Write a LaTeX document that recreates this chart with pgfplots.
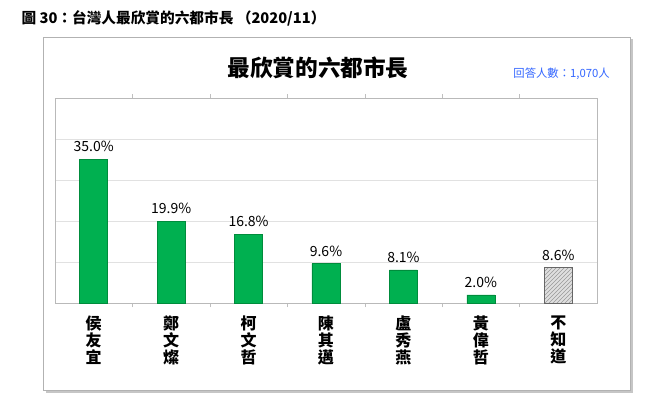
\documentclass[border=0pt]{standalone}
\usepackage{fontspec}
\setmainfont{Noto Sans CJK TC}
\usepackage{pgfplots}
\pgfplotsset{compat=1.18}
\usetikzlibrary{patterns}
\definecolor{bargreen}{RGB}{0,176,80}
\definecolor{barborder}{RGB}{0,140,60}
\definecolor{noteblue}{RGB}{51,102,255}
\definecolor{gridgray}{RGB}{225,225,225}
\begin{document}
\begin{tikzpicture}
\useasboundingbox (0,0) rectangle (493.5pt,306pt);
\fill[white] (0,0) rectangle (493.5pt,306pt);
% outer chart box with shadow
\fill[gray!45] (34.5pt,11.5pt) rectangle (474.5pt,276.5pt);
\draw[gray!60, fill=white, line width=0.6pt] (32.25pt,13.5pt) rectangle (472.5pt,278.25pt);
% header
\node[anchor=west, font=\bfseries\fontsize{11}{13}\selectfont, inner sep=0pt] at (16pt,292.5pt) {圖 30：台灣人最欣賞的六都市長 （2020/11）};
% title
\node[font=\bfseries\fontsize{17}{20}\selectfont, inner sep=0pt] at (238.5pt,255pt) {最欣賞的六都市長};
\node[anchor=east, font=\fontsize{8.5}{10}\selectfont, text=noteblue, inner sep=0pt] at (457.5pt,250.5pt) {回答人數：1,070人};
\begin{axis}[
  at={(41.25pt,78.75pt)}, anchor=south west,
  scale only axis, width=406.5pt, height=153.75pt,
  xmin=-0.5, xmax=6.5, ymin=0, ymax=50,
  axis line style={gray!55},
  ytick={10,20,30,40,50}, yticklabels={}, ymajorgrids,
  grid style={gridgray, line width=0.5pt},
  major tick length=0pt,
  xtick={0,1,2,3,4,5,6},
  xticklabels={{侯\\友\\宜},{鄭\\文\\燦},{柯\\文\\哲},{陳\\其\\邁},{盧\\秀\\燕},{黃\\偉\\哲},{不\\知\\道}},
  xticklabel style={align=center, font=\bfseries\fontsize{12}{12.8}\selectfont, yshift=-6pt},
  minor xtick={0.5,1.5,2.5,3.5,4.5,5.5},
  minor tick length=3pt, xtick align=outside,
  minor tick style={gray!50},
  /pgf/number format/assume math mode=true,
  ybar, bar width=21pt, bar shift=0pt,
  nodes near coords={\pgfmathprintnumber[fixed,fixed zerofill,precision=1]{\pgfplotspointmeta}\%},
  nodes near coords style={font=\fontsize{10.5}{12}\selectfont, black, yshift=2pt},
  clip=false,
]
\addplot[fill=bargreen, draw=barborder] coordinates {(0,35.0) (1,19.9) (2,16.8) (3,9.6) (4,8.1) (5,2.0)};
\addplot[fill=gray!25, draw=gray!80!black, postaction={pattern=north east lines, pattern color=gray!80}] coordinates {(6,8.6)};
\end{axis}
\end{tikzpicture}
\end{document}
